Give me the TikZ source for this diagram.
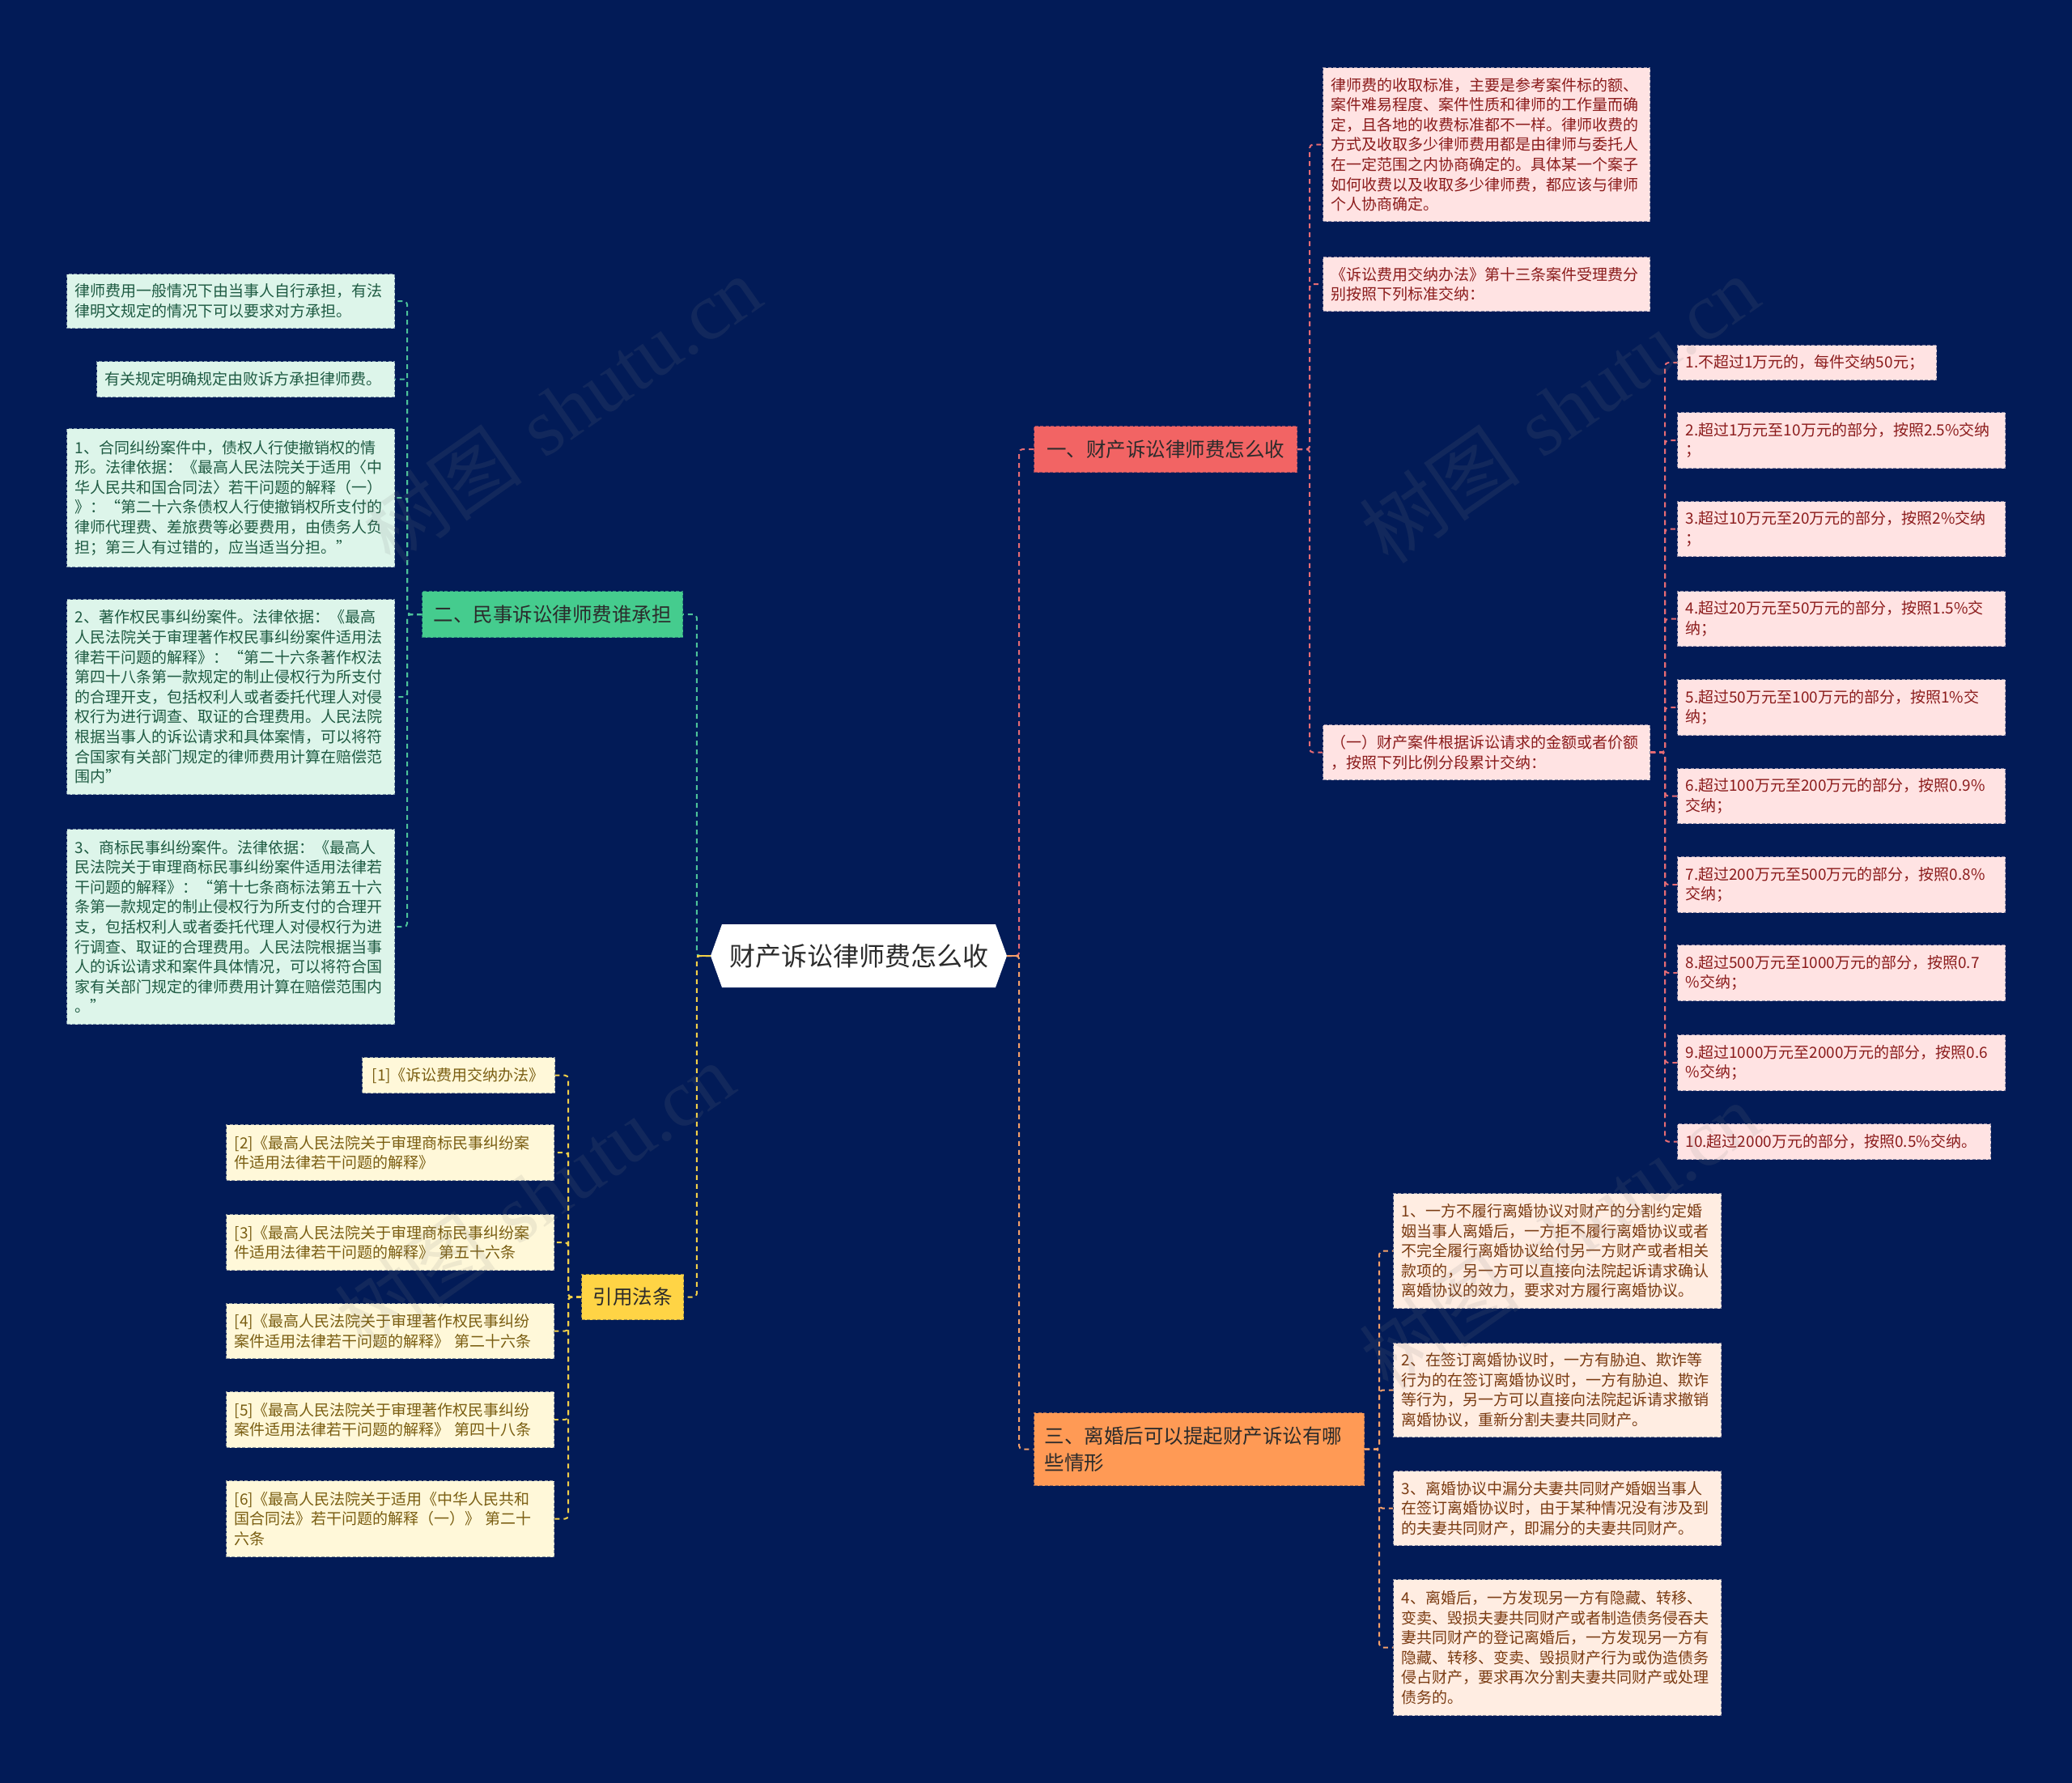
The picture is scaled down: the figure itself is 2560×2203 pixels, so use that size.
\documentclass[tikz,border=0pt]{standalone}
\usepackage{fontspec}
\newfontfamily\cjk{Noto Sans CJK SC}
\newfontfamily\wmserif{Liberation Serif}
\usetikzlibrary{calc}
\definecolor{bgnavy}{HTML}{021B57}
\definecolor{redfill}{HTML}{F26464}
\definecolor{greenfill}{HTML}{45CC8E}
\definecolor{yellowfill}{HTML}{FFD445}
\definecolor{orangefill}{HTML}{FF9A55}
\definecolor{pinkfill}{HTML}{FFE3E3}
\definecolor{pinktext}{HTML}{8B1C1C}
\definecolor{mintfill}{HTML}{DDF5EA}
\definecolor{minttext}{HTML}{1E5A42}
\definecolor{creamfill}{HTML}{FFF8D9}
\definecolor{creamtext}{HTML}{7A5E12}
\definecolor{peachfill}{HTML}{FFEDE2}
\definecolor{peachtext}{HTML}{7A3B12}
\definecolor{lnpink}{HTML}{E56B74}
\definecolor{lngreen}{HTML}{4CC29A}
\definecolor{lnyellow}{HTML}{F2D048}
\definecolor{lnorange}{HTML}{F4A06A}
\definecolor{darktext}{HTML}{2B2B2B}
\tikzset{
  conn/.style={line width=2pt, dash pattern=on 6pt off 5pt, rounded corners=4pt},
  lpink/.style={conn, draw=lnpink},
  lgreen/.style={conn, draw=lngreen},
  lyellow/.style={conn, draw=lnyellow},
  lorange/.style={conn, draw=lnorange},
  cbox/.style={anchor=north west, inner xsep=10pt, inner ysep=0pt, align=left,
    font=\cjk\fontsize{19}{24.6}\selectfont, line width=1.2pt, dash pattern=on 4pt off 2.5pt},
  pinkbox/.style={cbox, fill=pinkfill, draw=pinkfill!55!bgnavy, text=pinktext},
  mintbox/.style={cbox, fill=mintfill, draw=mintfill!55!bgnavy, text=minttext},
  creambox/.style={cbox, fill=creamfill, draw=creamfill!55!bgnavy, text=creamtext},
  peachbox/.style={cbox, fill=peachfill, draw=peachfill!55!bgnavy, text=peachtext},
  bbox/.style={anchor=north west, inner sep=0pt, text=darktext,
    font=\cjk\fontsize{24.5}{33}\selectfont, line width=1.2pt, dash pattern=on 4pt off 2.5pt},
  wm/.style={text=gray, opacity=0.13, font=\fontsize{100}{100}\selectfont}
}
\begin{document}
\begin{tikzpicture}[x=1pt,y=-1pt]
\fill[bgnavy] (0,0) rectangle (2560,2203);
\useasboundingbox (0,0) rectangle (2560,2203);

% root
\fill[white] (878,1181) -- (892,1142) -- (1230,1142) -- (1244,1181) -- (1230,1220) -- (892,1220) -- cycle;
\node[inner sep=0pt, minimum width=366pt, minimum height=78pt, text=darktext,
  font=\cjk\fontsize{32}{38}\selectfont] (root) at (1061,1181) {财产诉讼律师费怎么收};

% branches
\node[bbox, fill=redfill, draw=redfill!60!bgnavy, minimum width=325pt, minimum height=57pt] (b1) at (1277,526) {一、财产诉讼律师费怎么收};
\node[bbox, fill=greenfill, draw=greenfill!60!bgnavy, minimum width=322pt, minimum height=57pt] (b2) at (521,730) {二、民事诉讼律师费谁承担};
\node[bbox, fill=orangefill, draw=orangefill!60!bgnavy, minimum height=90pt, inner xsep=13pt, text width=382pt, align=left] (b3) at (1277,1745) {三、离婚后可以提起财产诉讼有哪\\些情形};
\node[bbox, fill=yellowfill, draw=yellowfill!60!bgnavy, minimum width=126pt, minimum height=56pt] (b4) at (718,1574) {引用法条};

% pink children
\node[pinkbox, text width=384pt, minimum height=190pt] (p1) at (1634,83) {律师费的收取标准，主要是参考案件标的额、\\案件难易程度、案件性质和律师的工作量而确\\定，且各地的收费标准都不一样。律师收费的\\方式及收取多少律师费用都是由律师与委托人\\在一定范围之内协商确定的。具体某一个案子\\如何收费以及收取多少律师费，都应该与律师\\个人协商确定。};
\node[pinkbox, text width=384pt, minimum height=67pt] (p2) at (1634,317) {《诉讼费用交纳办法》第十三条案件受理费分\\别按照下列标准交纳：};
\node[pinkbox, text width=384pt, minimum height=68pt] (p3) at (1634,895) {（一）财产案件根据诉讼请求的金额或者价额\\，按照下列比例分段累计交纳：};

\node[pinkbox, text width=300pt, minimum height=43pt] (q1) at (2072,426) {1.不超过1万元的，每件交纳50元；};
\node[pinkbox, text width=385pt, minimum height=69pt] (q2) at (2072,509) {2.超过1万元至10万元的部分，按照2.5\%交纳\\；};
\node[pinkbox, text width=385pt, minimum height=68pt] (q3) at (2072,619) {3.超过10万元至20万元的部分，按照2\%交纳\\；};
\node[pinkbox, text width=385pt, minimum height=68pt] (q4) at (2072,730) {4.超过20万元至50万元的部分，按照1.5\%交\\纳；};
\node[pinkbox, text width=385pt, minimum height=69pt] (q5) at (2072,839) {5.超过50万元至100万元的部分，按照1\%交\\纳；};
\node[pinkbox, text width=385pt, minimum height=68pt] (q6) at (2072,949) {6.超过100万元至200万元的部分，按照0.9\%\\交纳；};
\node[pinkbox, text width=385pt, minimum height=69pt] (q7) at (2072,1058) {7.超过200万元至500万元的部分，按照0.8\%\\交纳；};
\node[pinkbox, text width=385pt, minimum height=69pt] (q8) at (2072,1167) {8.超过500万元至1000万元的部分，按照0.7\\\%交纳；};
\node[pinkbox, text width=385pt, minimum height=69pt] (q9) at (2072,1278) {9.超过1000万元至2000万元的部分，按照0.6\\\%交纳；};
\node[pinkbox, text width=367pt, minimum height=44pt] (q10) at (2072,1388) {10.超过2000万元的部分，按照0.5\%交纳。};

% green children
\node[mintbox, text width=385pt, minimum height=67pt] (g1) at (82,338) {律师费用一般情况下由当事人自行承担，有法\\律明文规定的情况下可以要求对方承担。};
\node[mintbox, text width=348pt, minimum height=44pt] (g2) at (119,446) {有关规定明确规定由败诉方承担律师费。};
\node[mintbox, text width=385pt, minimum height=171pt] (g3) at (82,529) {1、合同纠纷案件中，债权人行使撤销权的情\\形。法律依据：《最高人民法院关于适用〈中\\华人民共和国合同法〉若干问题的解释（一）\\》：“第二十六条债权人行使撤销权所支付的\\律师代理费、差旅费等必要费用，由债务人负\\担；第三人有过错的，应当适当分担。”};
\node[mintbox, text width=385pt, minimum height=241pt] (g4) at (82,740) {2、著作权民事纠纷案件。法律依据：《最高\\人民法院关于审理著作权民事纠纷案件适用法\\律若干问题的解释》：“第二十六条著作权法\\第四十八条第一款规定的制止侵权行为所支付\\的合理开支，包括权利人或者委托代理人对侵\\权行为进行调查、取证的合理费用。人民法院\\根据当事人的诉讼请求和具体案情，可以将符\\合国家有关部门规定的律师费用计算在赔偿范\\围内”};
\node[mintbox, text width=385pt, minimum height=241pt] (g5) at (82,1024) {3、商标民事纠纷案件。法律依据：《最高人\\民法院关于审理商标民事纠纷案件适用法律若\\干问题的解释》：“第十七条商标法第五十六\\条第一款规定的制止侵权行为所支付的合理开\\支，包括权利人或者委托代理人对侵权行为进\\行调查、取证的合理费用。人民法院根据当事\\人的诉讼请求和案件具体情况，可以将符合国\\家有关部门规定的律师费用计算在赔偿范围内\\。”};

% citations
\node[creambox, text width=214pt, inner xsep=12pt, minimum height=44pt] (y1) at (447,1306) {[1]《诉讼费用交纳办法》};
\node[creambox, text width=385pt, minimum height=69pt] (y2) at (279,1389) {[2]《最高人民法院关于审理商标民事纠纷案\\件适用法律若干问题的解释》};
\node[creambox, text width=385pt, minimum height=69pt] (y3) at (279,1500) {[3]《最高人民法院关于审理商标民事纠纷案\\件适用法律若干问题的解释》 第五十六条};
\node[creambox, text width=385pt, minimum height=68pt] (y4) at (279,1610) {[4]《最高人民法院关于审理著作权民事纠纷\\案件适用法律若干问题的解释》 第二十六条};
\node[creambox, text width=385pt, minimum height=69pt] (y5) at (279,1719) {[5]《最高人民法院关于审理著作权民事纠纷\\案件适用法律若干问题的解释》 第四十八条};
\node[creambox, text width=385pt, minimum height=94pt] (y6) at (279,1829) {[6]《最高人民法院关于适用《中华人民共和\\国合同法》若干问题的解释（一）》 第二十\\六条};

% orange children
\node[peachbox, text width=385pt, minimum height=142pt] (o1) at (1721,1474) {1、一方不履行离婚协议对财产的分割约定婚\\姻当事人离婚后，一方拒不履行离婚协议或者\\不完全履行离婚协议给付另一方财产或者相关\\款项的，另一方可以直接向法院起诉请求确认\\离婚协议的效力，要求对方履行离婚协议。};
\node[peachbox, text width=385pt, minimum height=116pt] (o2) at (1721,1659) {2、在签订离婚协议时，一方有胁迫、欺诈等\\行为的在签订离婚协议时，一方有胁迫、欺诈\\等行为，另一方可以直接向法院起诉请求撤销\\离婚协议，重新分割夫妻共同财产。};
\node[peachbox, text width=385pt, minimum height=92pt] (o3) at (1721,1817) {3、离婚协议中漏分夫妻共同财产婚姻当事人\\在签订离婚协议时，由于某种情况没有涉及到\\的夫妻共同财产，即漏分的夫妻共同财产。};
\node[peachbox, text width=385pt, minimum height=168pt] (o4) at (1721,1951) {4、离婚后，一方发现另一方有隐藏、转移、\\变卖、毁损夫妻共同财产或者制造债务侵吞夫\\妻共同财产的登记离婚后，一方发现另一方有\\隐藏、转移、变卖、毁损财产行为或伪造债务\\侵占财产，要求再次分割夫妻共同财产或处理\\债务的。};

% connectors
\draw[lpink] (root.east) -- ++(15,0) |- (b1.west);
\draw[lorange] (root.east) -- ++(15,0) |- (b3.west);
\draw[lgreen] (root.west) -- ++(-17,0) |- (b2.east);
\draw[lyellow] (root.west) -- ++(-17,0) |- (b4.east);
\draw[lnorange, line width=2pt] (root.east) -- ++(15,0);
\draw[lnyellow, line width=2pt] (root.west) -- ++(-17,0);
\foreach \c in {p1,p2,p3} \draw[lpink] (b1.east) -- ++(15,0) |- (\c.west);
\foreach \c in {q1,q2,q3,q4,q5,q6,q7,q8,q9,q10} \draw[lpink] (p3.east) -- ++(18,0) |- (\c.west);
\foreach \c in {g1,g2,g3,g4,g5} \draw[lgreen] (b2.west) -- ++(-18,0) |- (\c.east);
\foreach \c in {y1,y2,y3,y4,y5,y6} \draw[lyellow] (b4.west) -- ++(-16,0) |- (\c.east);
\foreach \c in {o1,o2,o3,o4} \draw[lorange] (b3.east) -- ++(18,0) |- (\c.west);

% watermarks
\node[wm, rotate=35] (wm1) at (694,506) {{\cjk 树图} {\wmserif shutu.cn}};
\node[wm, rotate=35] (wm2) at (1927,506) {{\cjk 树图} {\wmserif shutu.cn}};
\node[wm, rotate=35] (wm3) at (661,1478) {{\cjk 树图} {\wmserif shutu.cn}};
\node[wm, rotate=35] (wm4) at (1927,1527) {{\cjk 树图} {\wmserif shutu.cn}};
\end{tikzpicture}
\end{document}
